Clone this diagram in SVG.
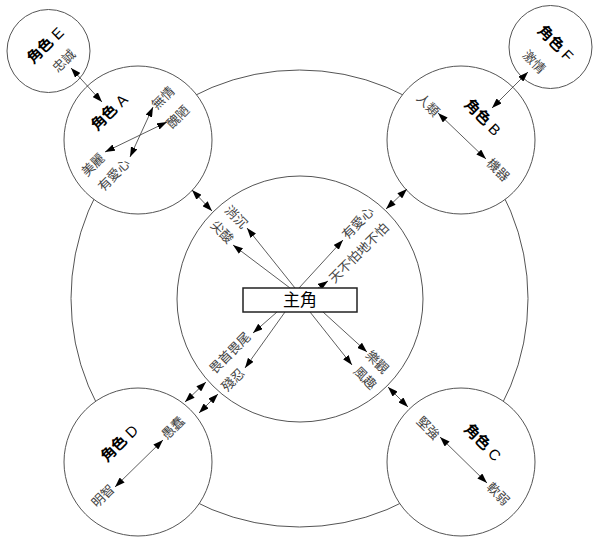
<svg xmlns="http://www.w3.org/2000/svg" width="600" height="543" viewBox="0 0 600 543">
<defs>
<marker id="ah" viewBox="0 0 10 7" refX="10" refY="3.5" markerWidth="10" markerHeight="7" markerUnits="userSpaceOnUse" orient="auto-start-reverse">
<path d="M0,0 L10,3.5 L0,7 z" fill="#000"/>
</marker>
</defs>
<style>
.ring{fill:#fff;stroke:#555;stroke-width:1}
.node{fill:#fff;stroke:#555;stroke-width:1}
.c{fill:none;stroke:#333;stroke-width:0.8}
.one{marker-end:url(#ah)}
.two{marker-start:url(#ah);marker-end:url(#ah)}
text{font-family:"Liberation Sans","Noto Sans CJK TC",sans-serif;text-anchor:middle;dominant-baseline:central}
.role{font-size:15px;font-weight:bold;fill:#000}
.role tspan{font-weight:normal}
.lbl{font-size:13px;fill:#444}
.main{font-size:17px;fill:#000}
</style>
<rect width="600" height="543" fill="#fff"/>
<g id="outer"><circle class="ring" cx="299.5" cy="298.5" r="228.5"/></g>
<g id="inner"><circle class="ring" cx="300" cy="299" r="123"/></g>
<g id="nodeA">
<circle class="node" cx="138" cy="140" r="74"/>
<text class="role" transform="translate(109,112) rotate(-45)">角色 <tspan>A</tspan></text>
<text class="lbl" transform="translate(163,98) rotate(-45)">無情</text>
<text class="lbl" transform="translate(178,117) rotate(-45)">醜陋</text>
<text class="lbl" transform="translate(93,165) rotate(-45)">美麗</text>
<text class="lbl" transform="translate(114,175) rotate(-45)">有愛心</text>
</g>
<g id="nodeB">
<circle class="node" cx="461" cy="140" r="74"/>
<text class="role" transform="translate(483,117) rotate(45)">角色 <tspan>B</tspan></text>
<text class="lbl" transform="translate(428,105) rotate(45)">人類</text>
<text class="lbl" transform="translate(498,170) rotate(45)">機器</text>
</g>
<g id="nodeC">
<circle class="node" cx="461" cy="462" r="74"/>
<text class="role" transform="translate(483,442) rotate(45)">角色 <tspan>C</tspan></text>
<text class="lbl" transform="translate(428,428) rotate(45)">堅強</text>
<text class="lbl" transform="translate(498,494) rotate(45)">軟弱</text>
</g>
<g id="nodeD">
<circle class="node" cx="138" cy="462" r="74"/>
<text class="role" transform="translate(119,443) rotate(-45)">角色 <tspan>D</tspan></text>
<text class="lbl" transform="translate(173,428) rotate(-45)">愚蠢</text>
<text class="lbl" transform="translate(103,496) rotate(-45)">明智</text>
</g>
<g id="nodeE">
<circle class="node" cx="48.5" cy="51" r="41.5"/>
<text class="role" transform="translate(45,45) rotate(-45)">角色 <tspan>E</tspan></text>
<text class="lbl" transform="translate(64,61) rotate(-45)">忠誠</text>
</g>
<g id="nodeF">
<circle class="node" cx="550.5" cy="47" r="41.5"/>
<text class="role" transform="translate(556,43) rotate(45)">角色 <tspan>F</tspan></text>
<text class="lbl" transform="translate(534,62) rotate(45)">激情</text>
</g>
<g id="connectors">
<line class="c two" x1="71" y1="68" x2="102" y2="102"/>
<line class="c two" x1="528" y1="72" x2="492" y2="108"/>
<line class="c two" x1="192" y1="190" x2="212" y2="211"/>
<line class="c two" x1="407" y1="189" x2="386" y2="209"/>
<line class="c two" x1="185" y1="402" x2="206" y2="382"/>
<line class="c two" x1="199" y1="413" x2="218" y2="394"/>
<line class="c two" x1="388" y1="387" x2="408" y2="407"/>
<line class="c two" x1="105" y1="152" x2="167" y2="122"/>
<line class="c two" x1="130" y1="157" x2="153" y2="107"/>
<line class="c two" x1="438" y1="113" x2="486" y2="159"/>
<line class="c two" x1="440" y1="437" x2="487" y2="483"/>
<line class="c two" x1="163" y1="440" x2="115" y2="487"/>
<line class="c one" x1="290" y1="288" x2="233" y2="245"/>
<line class="c one" x1="295" y1="288" x2="247" y2="228"/>
<line class="c one" x1="299" y1="288" x2="343" y2="240"/>
<line class="c one" x1="318" y1="288" x2="328" y2="281"/>
<line class="c one" x1="277" y1="312" x2="253" y2="333"/>
<line class="c one" x1="285" y1="312" x2="245" y2="368"/>
<line class="c one" x1="310" y1="312" x2="352" y2="365"/>
<line class="c one" x1="323" y1="312" x2="367" y2="352"/>
</g>
<g id="nodeMain">
<rect x="243" y="288" width="114" height="24" fill="#fff" stroke="#222" stroke-width="1.5"/>
<text class="main" x="300" y="300">主角</text>
</g>
<g id="labels">
<text class="lbl" transform="translate(236,217) rotate(45)">消沉</text>
<text class="lbl" transform="translate(222,232) rotate(45)">尖酸</text>
<text class="lbl" transform="translate(358,223) rotate(-45)">有愛心</text>
<text class="lbl" transform="translate(359,253) rotate(-45)">天不怕地不怕</text>
<text class="lbl" transform="translate(230,353) rotate(-45)">畏首畏尾</text>
<text class="lbl" transform="translate(233,380) rotate(-45)">殘忍</text>
<text class="lbl" transform="translate(377,362) rotate(45)">樂觀</text>
<text class="lbl" transform="translate(365,378) rotate(45)">風趣</text>
</g>
</svg>
